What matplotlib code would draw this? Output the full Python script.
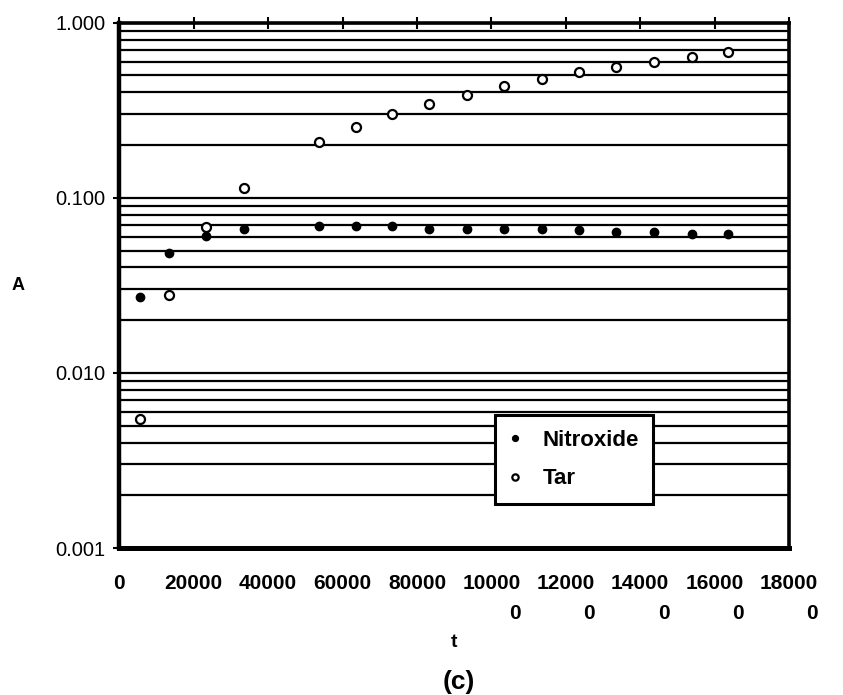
import matplotlib
matplotlib.use("Agg")
import matplotlib.pyplot as plt
from matplotlib.ticker import LogLocator, FixedLocator, NullFormatter, FormatStrFormatter

plt.rcParams['font.family'] = ['Liberation Sans', 'DejaVu Sans']

# sampling times
t = [5600, 13400, 23400, 33400, 53800, 63500, 73400, 83300, 93400, 103500,
     113600, 123500, 133600, 143700, 153800, 163700]

nitroxide = [0.0270, 0.0482, 0.0607, 0.0663, 0.0692, 0.0692, 0.0686, 0.0668,
             0.0668, 0.0663, 0.0663, 0.0651, 0.0634, 0.0634, 0.0621, 0.0621]
tar = [0.00548, 0.0277, 0.0677, 0.1136, 0.207, 0.254, 0.301, 0.345,
       0.388, 0.435, 0.475, 0.521, 0.559, 0.597, 0.640, 0.678]

xticks = [0, 20000, 40000, 60000, 80000, 100000, 120000, 140000, 160000, 180000]
xlabels = ['0', '20000', '40000', '60000', '80000',
           '10000\n0', '12000\n0', '14000\n0', '16000\n0', '18000\n0']
yticks = [0.001, 0.01, 0.1, 1.0]

fig = plt.figure(figsize=(8.43, 6.95), dpi=100)
ax = fig.add_axes([0.1415, 0.2115, 0.7945, 0.7558])

ax.plot(t, nitroxide, linestyle='none', marker='o', markersize=6,
        color='black', label='Nitroxide')
ax.plot(t, tar, linestyle='none', marker='o', markersize=6.5,
        markerfacecolor='white', markeredgecolor='black', markeredgewidth=1.6,
        label='Tar')

ax.set_yscale('log')
ax.set_ylim(0.001, 1.0)
ax.set_xlim(0, 180000)

ax.yaxis.set_major_locator(FixedLocator(yticks))
ax.yaxis.set_major_formatter(FormatStrFormatter('%.3f'))
ax.yaxis.set_minor_locator(LogLocator(base=10, subs=range(2, 10)))
ax.yaxis.set_minor_formatter(NullFormatter())
ax.yaxis.grid(True, which='both', color='black', linewidth=1.6)
ax.set_axisbelow(True)

ax.set_xticks(xticks)
ax.set_xticklabels(xlabels, fontweight='bold', fontsize=15,
                   multialignment='right', linespacing=1.75)
ax.tick_params(axis='x', top=True, bottom=False, direction='inout',
               length=9, width=1.5, pad=14)
ax.tick_params(axis='y', which='major', direction='out', length=4,
               width=1.5, labelsize=14.5, pad=6)
ax.tick_params(axis='y', which='minor', length=0)

for side, lw in (('left', 3.2), ('bottom', 3.6), ('top', 2.6), ('right', 2.6)):
    ax.spines[side].set_linewidth(lw)
    ax.spines[side].set_color('black')

ax.set_xlabel('t', fontweight='bold', fontsize=14, labelpad=8)
fig.text(18 / 843, 1 - 285 / 695, 'A', fontweight='bold', fontsize=13,
         ha='center', va='center')
fig.text(0.544, 0.018, '(c)', fontweight='bold', fontsize=19,
         ha='center', va='center')

leg = ax.legend(loc='upper left', bbox_to_anchor=(0.561, 0.072, 0.236, 0.181),
                mode='expand', fancybox=False, framealpha=1, edgecolor='black',
                borderaxespad=0, borderpad=0.65, labelspacing=0.8,
                handlelength=0.5, handletextpad=1.0, markerscale=0.7,
                prop={'weight': 'bold', 'size': 16})
leg.get_frame().set_linewidth(2.2)

fig.savefig('out.png', dpi=100)
